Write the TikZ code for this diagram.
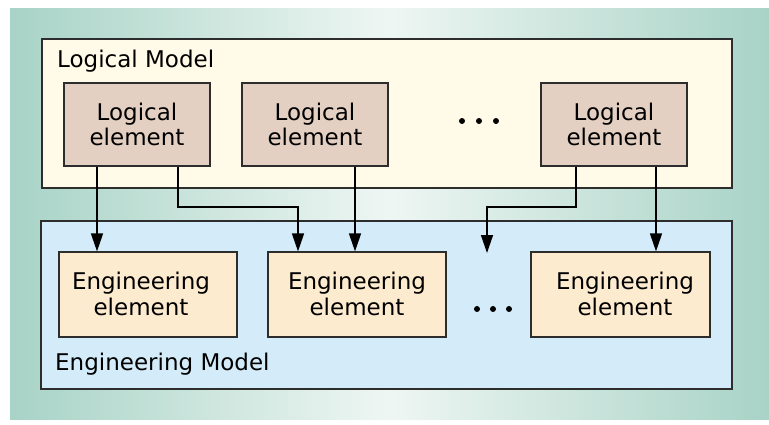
\documentclass[tikz,border=0pt]{standalone}
\usepackage{fontspec}
\setmainfont{DejaVu Sans}
\usetikzlibrary{arrows.meta}

\definecolor{bgedge}{RGB}{168,211,198}
\definecolor{bgmid}{RGB}{238,246,243}
\definecolor{lmfill}{RGB}{255,251,232}
\definecolor{lefill}{RGB}{228,208,194}
\definecolor{emfill}{RGB}{212,236,249}
\definecolor{eefill}{RGB}{253,235,207}
\definecolor{edge}{RGB}{45,45,45}

\tikzset{
  container/.style={draw=edge, line width=1.2pt, rectangle, inner sep=0pt},
  logbox/.style={draw=edge, line width=1.2pt, fill=lefill, rectangle, inner sep=0pt,
    minimum width=146pt, minimum height=83pt, align=center,
    font=\fontsize{23}{25.5}\selectfont},
  engbox/.style={draw=edge, line width=1.2pt, fill=eefill, rectangle, inner sep=0pt,
    minimum width=178pt, minimum height=85pt},
  engtext/.style={inner sep=0pt, align=center, font=\fontsize{23}{26}\selectfont},
  title/.style={inner sep=0pt, anchor=base west, font=\fontsize{23}{26}\selectfont},
  link/.style={draw=black, line width=1.4pt},
  arr/.style={link, -{Triangle[length=18pt,width=12pt]}},
  dot/.style={fill=black}
}

\begin{document}
\begin{tikzpicture}[x=1pt, y=-1pt]
  \useasboundingbox (0,0) rectangle (769,424);
  \fill[white] (0,0) rectangle (769,424);
  \shade[left color=bgedge, right color=bgedge, middle color=bgmid]
    (10,8) rectangle (769,419);

  % containers
  \node[container, fill=lmfill, minimum width=690pt, minimum height=149pt]
    (lm) at (387,113.5) {};
  \node[container, fill=emfill, minimum width=691pt, minimum height=168pt]
    (em) at (386.5,305) {};
  \node[title] (lmt) at (57,67) {Logical Model};
  \node[title] (emt) at (55,370) {Engineering Model};

  % logical elements
  \node[logbox] (le1) at (137,124.5) {Logical\\element};
  \node[logbox] (le2) at (315,124.5) {Logical\\element};
  \node[logbox] (le3) at (614,124.5) {Logical\\element};

  % engineering elements
  \node[engbox] (ee1) at (148,294.5) {};
  \node[engbox] (ee2) at (357,294.5) {};
  \node[engbox, minimum width=179pt] (ee3) at (620.5,294.5) {};
  \node[engtext] (ee1t) at (141,293.5) {Engineering\\element};
  \node[engtext] (ee2t) at (357,293.5) {Engineering\\element};
  \node[engtext] (ee3t) at (625,293.5) {Engineering\\element};

  % ellipses
  \foreach \x in {462,479,496} \fill[dot] (\x,121) circle (3pt);
  \foreach \x in {477,493,509} \fill[dot] (\x,309) circle (3pt);

  % routing helpers
  \coordinate (jog) at (0,207);
  \coordinate (open) at (487,253);

  % connectors
  \draw[arr] ([xshift=-40pt]le1.south) -- ([xshift=-40pt]le1.south |- ee1.north);
  \draw[arr] ([xshift=41pt]le1.south) -- ([xshift=41pt]le1.south |- jog)
    -| ([xshift=-59pt]ee2.north);
  \draw[arr] ([xshift=40pt]le2.south) -- ([xshift=40pt]le2.south |- ee2.north);
  \draw[arr] ([xshift=-38pt]le3.south) -- ([xshift=-38pt]le3.south |- jog)
    -| (open);
  \draw[arr] ([xshift=42pt]le3.south) -- ([xshift=42pt]le3.south |- ee3.north);
\end{tikzpicture}
\end{document}
